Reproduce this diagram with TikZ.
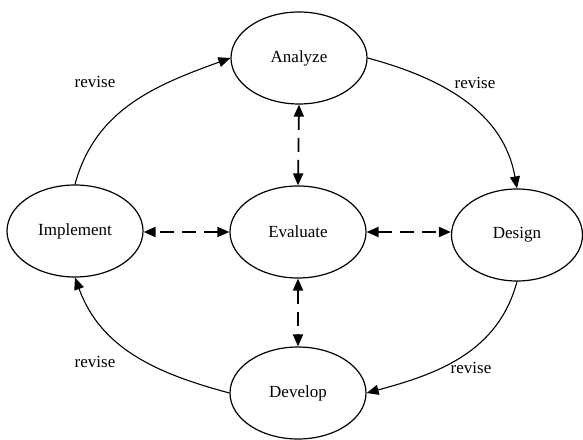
\documentclass[tikz,border=0pt]{standalone}
\usepackage{fontspec}
\setmainfont{Liberation Serif}
\usetikzlibrary{arrows.meta,shapes.geometric}

\begin{document}
\begin{tikzpicture}[x=1pt,y=1pt,
    phase/.style={ellipse,draw,line width=1.2pt,minimum width=136pt,minimum height=92pt,inner sep=0pt,font=\fontsize{17}{20}\selectfont},
    note/.style={font=\fontsize{17}{20}\selectfont},
    loop/.style={line width=1.1pt,-{Triangle[length=12pt,width=10pt]}},
    feedback/.style={line width=1.8pt,dash pattern=on 14pt off 8pt,{Triangle[length=12pt,width=10pt]}-{Triangle[length=12pt,width=10pt]}}]
          \useasboundingbox (0,0) rectangle (583,439);
          \node (ana) at (299,381) [phase] {Analyze};
          \node (eva) at (298,207) [phase] {Evaluate};
          \node (imp) at (75,208) [phase] {Implement};
          \node (des) at (517,204) [phase,minimum width=131pt] {Design};
          \node (dev) at (298,46) [phase] {Develop};
          \node (r1) at (95,357) [note] {revise};
          \node (r2) at (475,356) [note] {revise};
          \node (r3) at (95,77) [note] {revise};
          \node (r4) at (471,71) [note] {revise};
          % the outer cycle
          \draw[loop] (imp.north) to[out=75,in=200] (ana.west);
          \draw[loop] (ana.east) to[out=-15,in=100] (des.north);
          \draw[loop] (des.south) to[out=-105,in=15] (dev.east);
          \draw[loop] (dev.west) to[out=165,in=-70] (imp.south);
          % evaluation links
          \draw[feedback] (eva.north) -- (ana.south);
          \draw[feedback] (eva.south) -- (dev.north);
          \draw[feedback] (eva.west) -- (imp.east |- eva.west);
          \draw[feedback] (eva.east) -- (des.west |- eva.east);
        \end{tikzpicture}
\end{document}
